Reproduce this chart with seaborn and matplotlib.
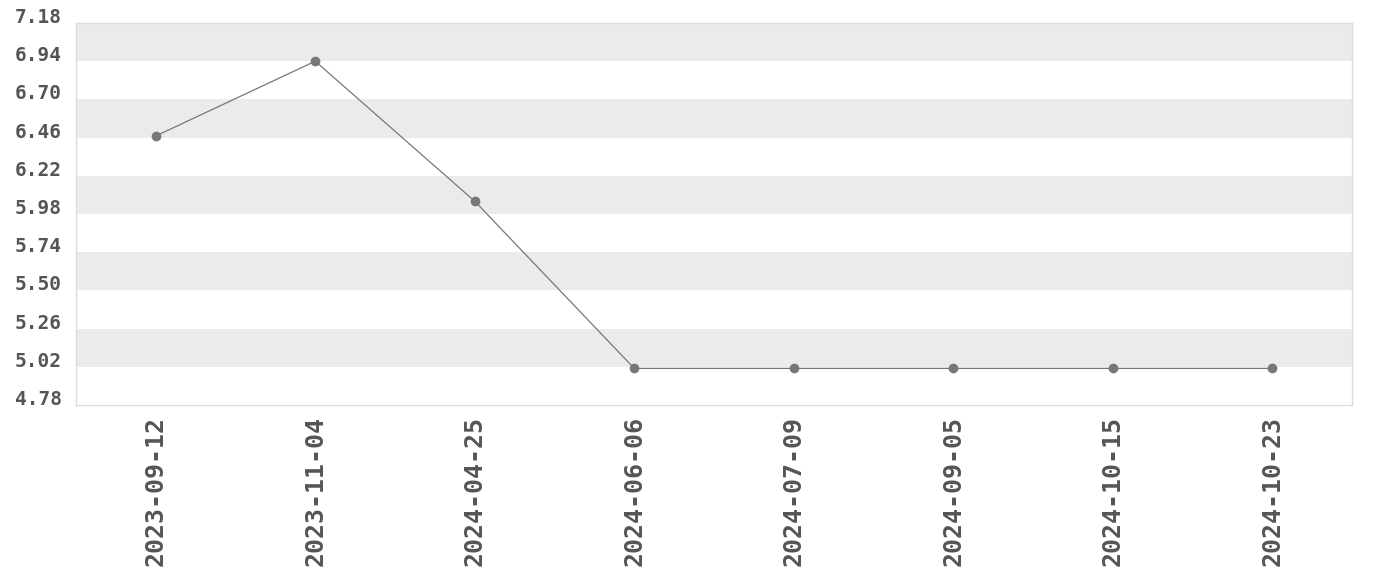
import matplotlib
matplotlib.use("Agg")
import matplotlib.pyplot as plt
import seaborn as sns
import pandas as pd
import numpy as np

dates = ["2023-09-12", "2023-11-04", "2024-04-25", "2024-06-06",
         "2024-07-09", "2024-09-05", "2024-10-15", "2024-10-23"]
values = [6.47, 6.94, 6.06, 5.01, 5.01, 5.01, 5.01, 5.01]
yticks = [4.78, 5.02, 5.26, 5.50, 5.74, 5.98, 6.22, 6.46, 6.70, 6.94, 7.18]

sns.set_theme(style="white")
plt.rcParams["font.family"] = ["DejaVu Sans Mono", "DejaVu Sans"]

df = pd.DataFrame({"date": dates, "value": values})

fig = plt.figure(figsize=(13.8, 5.8), dpi=100)
ax = fig.add_axes([76/1380, 1-405/580, (1352-76)/1380, (405-23)/580])

# alternating bands
for i in range(len(yticks)-1):
    if (len(yticks)-2-i) % 2 == 0:
        ax.axhspan(yticks[i], yticks[i+1], color="#ebebeb", lw=0, zorder=0)

sns.lineplot(data=df, x="date", y="value", sort=False, ax=ax,
             color="#777777", linewidth=0.9, marker="o", markersize=7,
             markeredgewidth=0, zorder=3)

ax.set_xlim(-0.5, len(dates)-0.5)
ax.set_ylim(yticks[0], yticks[-1])
ax.set_yticks(yticks)
ax.set_yticklabels([f"{v:.2f}" for v in yticks])
ax.set_xlabel("")
ax.set_ylabel("")
ax.tick_params(axis="y", length=0, pad=10, labelsize=14, labelcolor="#555555")
ax.tick_params(axis="x", length=0, pad=8, labelsize=18, labelcolor="#555555",
               labelrotation=90)
for lab in ax.get_yticklabels():
    lab.set_fontweight("bold")
    lab.set_va("baseline")
for lab in ax.get_xticklabels():
    lab.set_fontweight("bold")
for s in ax.spines.values():
    s.set_color("#dddddd")
    s.set_linewidth(1)
ax.grid(False)

fig.savefig("out.png", dpi=100)
